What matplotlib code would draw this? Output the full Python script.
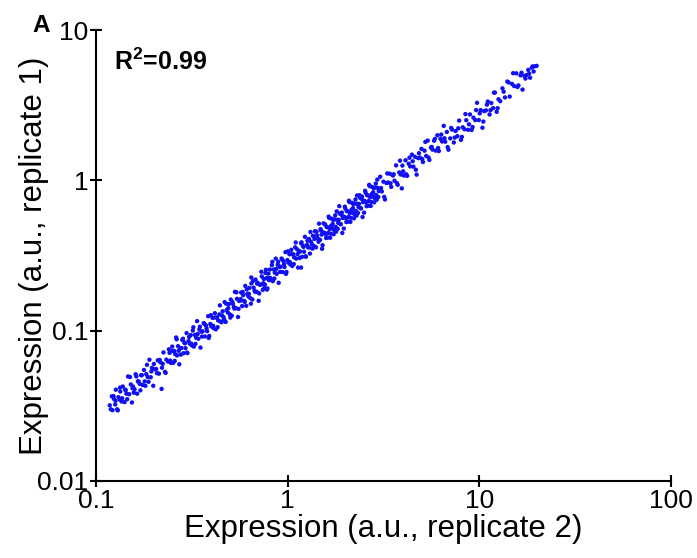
import matplotlib
matplotlib.use("Agg")
import matplotlib.pyplot as plt
from matplotlib.ticker import FixedLocator, FixedFormatter

plt.rcParams['font.family'] = ['Liberation Sans', 'DejaVu Sans']
plt.rcParams['mathtext.fontset'] = 'custom'
plt.rcParams['mathtext.rm'] = 'Liberation Sans'
plt.rcParams['mathtext.bf'] = 'Liberation Sans:bold'

# expression values (replicate 2 on x, replicate 1 on y)
rep2 = [
    0.118, 0.121, 0.122, 0.124, 0.126, 0.127, 0.129, 0.131, 0.133, 0.134, 0.136, 0.138, 0.141, 0.143, 0.144, 0.147,
    0.149, 0.152, 0.154, 0.156, 0.159, 0.161, 0.164, 0.167, 0.169, 0.172, 0.175, 0.178, 0.181, 0.183, 0.186, 0.190,
    0.193, 0.196, 0.199, 0.203, 0.206, 0.210, 0.213, 0.217, 0.221, 0.225, 0.229, 0.233, 0.238, 0.242, 0.246, 0.220,
    0.250, 0.253, 0.256, 0.259, 0.262, 0.265, 0.268, 0.272, 0.275, 0.279, 0.282, 0.286, 0.289, 0.293, 0.297, 0.300,
    0.304, 0.308, 0.312, 0.316, 0.320, 0.324, 0.328, 0.333, 0.337, 0.342, 0.346, 0.351, 0.355, 0.360, 0.365, 0.370,
    0.375, 0.380, 0.385, 0.390, 0.395, 0.400, 0.406, 0.411, 0.417, 0.422, 0.428, 0.434, 0.440, 0.446,
    0.452, 0.458, 0.463, 0.469, 0.475, 0.481, 0.487, 0.493, 0.499, 0.505, 0.511, 0.518, 0.524, 0.531, 0.537, 0.544,
    0.551, 0.558, 0.565, 0.572, 0.579, 0.586, 0.593, 0.601, 0.608, 0.616, 0.624, 0.631, 0.639, 0.647, 0.655, 0.664,
    0.672, 0.680, 0.689, 0.697, 0.706, 0.715, 0.724, 0.733, 0.742, 0.751, 0.761, 0.770, 0.780, 0.789, 0.799,
    0.808, 0.818, 0.827, 0.837, 0.847, 0.857, 0.867, 0.877, 0.887, 0.898, 0.908, 0.919, 0.930, 0.941, 0.952, 0.963,
    0.974, 0.986, 0.997, 1.009, 1.021, 1.033, 1.045, 1.057, 1.070, 1.082, 1.095, 1.108, 1.121, 1.134, 1.148, 1.161,
    1.175, 1.189, 1.203, 1.217, 1.231, 1.246, 1.261, 1.276, 1.291,
    1.307, 1.323, 1.339, 1.355, 1.372, 1.389, 1.406, 1.423, 1.440, 1.458, 1.476, 1.494, 1.512, 1.531, 1.549, 1.568,
    1.587, 1.607, 1.626, 1.646, 1.666, 1.687, 1.707, 1.728, 1.749, 1.771, 1.792, 1.814, 1.836, 1.859, 1.882, 1.905,
    1.928, 1.952, 1.975, 2.000, 2.024, 2.049, 2.074, 2.099, 2.125, 2.151, 2.178, 2.204, 2.231, 2.259, 2.286, 2.314,
    2.343, 2.371, 2.400, 2.430, 2.459, 2.490, 2.520, 2.551, 2.582, 2.614, 2.646, 2.678, 2.711, 2.744, 2.778, 2.812,
    2.847, 2.882, 2.917, 2.953, 2.989,
    3.04, 3.10, 3.16, 3.22, 3.28, 3.34, 3.41, 3.47, 3.54, 3.61, 3.68, 3.75, 3.82, 3.89, 3.97, 4.04,
    4.12, 4.20, 4.28, 4.36, 4.45, 4.53, 4.62, 4.71, 4.80, 4.89, 4.99, 5.08, 5.18, 5.28, 5.38, 5.49,
    5.59, 5.70, 5.81, 5.92, 6.04, 6.15, 6.27, 6.39, 6.52, 6.64, 6.77, 6.90,
    7.05, 7.20, 7.36, 7.52, 7.68, 7.85, 8.02, 8.19, 8.37, 8.55, 8.74, 8.93, 9.12, 9.32, 9.52, 9.73,
    9.94, 10.16, 10.38, 10.60, 10.83, 11.07, 11.31, 11.55, 11.80, 12.06, 12.32, 12.59, 12.86,
    13.2, 13.6, 14.0, 14.4, 14.8, 15.2, 15.6, 16.0, 16.4, 16.8, 17.2, 17.6, 18.0, 18.4, 18.8, 19.2, 19.6, 19.9,
    # second pass, between the first points
    0.1195, 0.1235, 0.1265, 0.130, 0.1335, 0.137, 0.142, 0.1455, 0.1505, 0.155, 0.1575, 0.1625, 0.1655, 0.1705,
    0.1735, 0.1795, 0.1845, 0.188, 0.1945, 0.2005, 0.208, 0.215, 0.223, 0.231, 0.240, 0.244,
    0.2515, 0.2575, 0.2635, 0.270, 0.277, 0.2845, 0.291, 0.2985, 0.306, 0.314, 0.322, 0.3305, 0.3395, 0.3485,
    0.3575, 0.3675, 0.3775, 0.3875, 0.3975, 0.4085, 0.4195, 0.431, 0.443,
    0.455, 0.466, 0.478, 0.490, 0.502, 0.5145, 0.5275, 0.5405, 0.5545, 0.5685, 0.5825, 0.597, 0.612, 0.6275,
    0.643, 0.6595, 0.676, 0.693, 0.7105, 0.7285, 0.7465, 0.756, 0.7655, 0.775, 0.7845, 0.794,
    0.813, 0.832, 0.852, 0.872, 0.8925, 0.9135, 0.935, 0.9575, 0.980, 1.003, 1.027, 1.051, 1.076, 1.1015,
    1.1275, 1.1545, 1.182, 1.210, 1.238, 1.2685, 1.2985,
    1.315, 1.347, 1.3805, 1.4145, 1.449, 1.485, 1.503, 1.5215, 1.540, 1.5775, 1.5965, 1.616, 1.636, 1.656,
    1.6765, 1.697, 1.7175, 1.7385, 1.760, 1.7815, 1.803, 1.825, 1.8475, 1.8705, 1.8935, 1.9165, 1.940, 1.9635,
    1.9875, 2.012, 2.0365, 2.0615, 2.0865, 2.112, 2.138, 2.1645, 2.191, 2.2175, 2.245, 2.2725, 2.300, 2.3285,
    2.357, 2.3855, 2.415, 2.4445, 2.4745, 2.505, 2.5355, 2.5665, 2.598, 2.630, 2.662, 2.6945, 2.7275, 2.761,
    2.795, 2.8295, 2.8645, 2.8995, 2.935, 2.971,
    3.07, 3.19, 3.31, 3.44, 3.575, 3.715, 3.855, 4.005, 4.16, 4.32, 4.49, 4.665, 4.845, 5.035, 5.23, 5.435,
    5.645, 5.865, 6.095, 6.33, 6.58, 6.835,
    7.13, 7.44, 7.765, 8.105, 8.46, 8.835, 9.22, 9.625, 10.05, 10.49, 10.95, 11.43, 11.93, 12.45,
    13.4, 14.2, 15.0, 15.8, 16.6, 17.4, 18.2, 19.0,
    # stray points off the band
    3.94, 1.175, 0.646,
]
rep1 = [
    0.0319, 0.0366, 0.0296, 0.0352, 0.0323, 0.0405, 0.0300, 0.0361, 0.0348, 0.0394, 0.0338, 0.0425, 0.0335, 0.0402, 0.0381, 0.0496,
    0.0378, 0.0439, 0.0333, 0.0425, 0.0408, 0.0513, 0.0381, 0.0460, 0.0443, 0.0506, 0.0435, 0.0548, 0.0430, 0.0514, 0.0492, 0.0641,
    0.0490, 0.0566, 0.0430, 0.0554, 0.0556, 0.0635, 0.0518, 0.0615, 0.0567, 0.0717, 0.0532, 0.0642, 0.0623, 0.0712, 0.0611, 0.041,
    0.0784, 0.0612, 0.0732, 0.0698, 0.0901, 0.0685, 0.0789, 0.0598, 0.0764, 0.0767, 0.0869, 0.0708, 0.0835, 0.0765, 0.0964, 0.0710,
    0.0853, 0.0822, 0.0935, 0.0799, 0.1003, 0.0784, 0.0938, 0.0897, 0.1158, 0.0884, 0.1018, 0.0772, 0.0986, 0.0990, 0.1124, 0.0916,
    0.1083, 0.0993, 0.1249, 0.0922, 0.1108, 0.1067, 0.1217, 0.1040, 0.1307, 0.1021, 0.1224, 0.1170, 0.1283, 0.1153,
    0.1139, 0.1346, 0.1231, 0.1550, 0.1144, 0.1374, 0.1323, 0.1504, 0.1285, 0.1612, 0.1259, 0.1508, 0.1438, 0.1814, 0.1413, 0.1630,
    0.1234, 0.1578, 0.1582, 0.1794, 0.1459, 0.1723, 0.1577, 0.1986, 0.1464, 0.1759, 0.1695, 0.1926, 0.1646, 0.2065, 0.1614, 0.1934,
    0.1844, 0.2190, 0.1813, 0.2088, 0.1581, 0.2022, 0.2027, 0.2299, 0.1870, 0.2208, 0.2024, 0.2544, 0.1878, 0.2253, 0.2170,
    0.2554, 0.2182, 0.2734, 0.2136, 0.2554, 0.2435, 0.3017, 0.2391, 0.2752, 0.2083, 0.2659, 0.2665, 0.3021, 0.2456, 0.2899, 0.2653,
    0.3333, 0.2459, 0.2949, 0.2838, 0.3227, 0.2756, 0.3455, 0.2697, 0.3227, 0.3075, 0.3589, 0.3020, 0.3479, 0.2631, 0.3362, 0.3367,
    0.3817, 0.3103, 0.3663, 0.3353, 0.4213, 0.3107, 0.3730, 0.3589, 0.4081,
    0.3260, 0.3914, 0.3767, 0.4283, 0.3660, 0.4592, 0.3588, 0.4292, 0.4092, 0.5159, 0.4024, 0.4636, 0.3508, 0.4484, 0.4492, 0.5093,
    0.4142, 0.4893, 0.4480, 0.5633, 0.4155, 0.4990, 0.4802, 0.5462, 0.4666, 0.5855, 0.4573, 0.5471, 0.5218, 0.6739, 0.5131, 0.5911,
    0.4473, 0.5718, 0.5728, 0.6496, 0.5283, 0.6239, 0.5714, 0.7183, 0.5300, 0.6363, 0.6127, 0.6967, 0.5952, 0.7468, 0.5834, 0.6979,
    0.6659, 0.7976, 0.6542, 0.7540, 0.5705, 0.7293, 0.7308, 0.8286, 0.6739, 0.7960, 0.7290, 0.9164, 0.6761, 0.8117, 0.7814, 0.8889,
    0.7596, 0.9528, 0.7444, 0.8907, 0.8495,
    1.058, 0.845, 0.981, 0.747, 0.961, 0.969, 1.108, 0.906, 1.078, 0.995, 1.259, 0.935, 1.130, 1.094, 1.255, 1.078,
    1.362, 1.072, 1.291, 1.239, 1.484, 1.235, 1.434, 1.093, 1.406, 1.418, 1.621, 1.326, 1.577, 1.455, 1.841, 1.369,
    1.654, 1.603, 1.837, 1.579, 1.997, 1.569, 1.891, 1.816, 2.307, 1.810, 2.101, 1.601,
    1.904, 2.177, 1.788, 2.132, 1.970, 2.501, 1.862, 2.256, 2.192, 2.516, 2.171, 2.749, 2.167, 2.617, 2.519, 3.284,
    2.523, 2.935, 2.242, 2.891, 2.924, 3.348, 2.748, 3.274, 3.027, 3.842, 2.861, 3.467, 3.368,
    4.101, 3.566, 4.549, 3.612, 4.387, 4.245, 5.157, 4.286, 5.001, 4.022, 4.951, 5.016, 5.438, 4.824, 5.626, 5.308, 5.754, 5.785,
    # second pass
    0.0300, 0.0367, 0.0342, 0.0295, 0.0418, 0.0355, 0.0406, 0.0350, 0.0492, 0.0414, 0.0387, 0.0496, 0.0460, 0.0401,
    0.0506, 0.0460, 0.0593, 0.0457, 0.0536, 0.0601, 0.0522, 0.0639, 0.0602, 0.0524, 0.0752, 0.0632,
    0.0733, 0.0630, 0.0877, 0.0735, 0.0693, 0.0884, 0.0824, 0.0714, 0.0909, 0.0820, 0.1054, 0.0818, 0.0952, 0.1064,
    0.0914, 0.1112, 0.1038, 0.0895, 0.1268, 0.1078, 0.1223, 0.1055, 0.1474,
    0.1261, 0.1188, 0.1512, 0.1413, 0.1223, 0.1556, 0.1403, 0.1801, 0.1397, 0.1624, 0.1810, 0.1555, 0.1885, 0.1757,
    0.1512, 0.2142, 0.1817, 0.2057, 0.1771, 0.2468, 0.2069, 0.1926, 0.2422, 0.2235, 0.1911, 0.2401,
    0.2240, 0.2871, 0.2224, 0.2580, 0.2873, 0.2464, 0.2983, 0.2777, 0.2387, 0.3374, 0.2859, 0.3231, 0.2777, 0.3865,
    0.3237, 0.3047, 0.3874, 0.3614, 0.3123, 0.3973, 0.3578,
    0.4538, 0.3516, 0.4083, 0.4553, 0.3908, 0.4737, 0.4359, 0.3706, 0.5181, 0.4392, 0.4908, 0.4171, 0.5741, 0.4754,
    0.4424, 0.5561, 0.5130, 0.4386, 0.5512, 0.4908, 0.6222, 0.4763, 0.5465, 0.6021, 0.5107, 0.6113, 0.5626, 0.4783,
    0.6686, 0.5601, 0.6260, 0.5321, 0.7321, 0.6064, 0.5642, 0.7093, 0.6545, 0.5595, 0.7031, 0.6261, 0.7937, 0.6077,
    0.6972, 0.7679, 0.6513, 0.7798, 0.7176, 0.6102, 0.8529, 0.7145, 0.7986, 0.6788, 0.9341, 0.7736, 0.7198, 0.9048,
    0.8349, 0.7139, 0.8972, 0.7988, 1.0129, 0.7754,
    0.890, 0.777, 1.113, 0.958, 1.099, 0.959, 1.353, 1.150, 1.098, 1.416, 1.341, 1.177, 1.517, 1.387, 1.805, 1.419,
    1.670, 1.888, 1.644, 2.019, 1.908, 1.665,
    2.233, 1.928, 2.222, 1.948, 2.764, 2.362, 2.265, 2.937, 2.795, 2.464, 3.193, 2.932, 3.833, 3.025,
    3.895, 4.492, 5.173, 4.188, 5.204, 4.761, 5.135, 5.740,
    # stray points
    0.885, 0.263, 0.226,
]

x_ticks = [0.1, 1, 10, 100]
x_labels = ['0.1', '1', '10', '100']
y_ticks = [0.01, 0.1, 1, 10]
y_labels = ['0.01', '0.1', '1', '10']

fig = plt.figure(figsize=(6.97, 5.58), dpi=100)
ax = fig.add_axes([0.1377, 0.138, 0.825, 0.808])

ax.scatter(rep2, rep1, s=10, color='#1010f0', edgecolors='none')

ax.set_xscale('log')
ax.set_yscale('log')
ax.set_xlim(0.1, 100)
ax.set_ylim(0.01, 10)
ax.xaxis.set_major_locator(FixedLocator(x_ticks))
ax.xaxis.set_major_formatter(FixedFormatter(x_labels))
ax.yaxis.set_major_locator(FixedLocator(y_ticks))
ax.yaxis.set_major_formatter(FixedFormatter(y_labels))
ax.minorticks_off()

for side in ['top', 'right']:
    ax.spines[side].set_visible(False)
for side in ['left', 'bottom']:
    ax.spines[side].set_linewidth(1.5)
ax.tick_params(direction='inout', length=9, width=1.5, labelsize=19, pad=1)

ax.set_xlabel('Expression (a.u., replicate 2)', fontsize=22.5, labelpad=1)
ax.set_ylabel('Expression (a.u., replicate 1)', fontsize=22.5)
ax.yaxis.set_label_coords(-0.081, 0.5)

ax.text(0.032, 0.912, r'R$^{\mathbf{2}}$=0.99', transform=ax.transAxes, fontsize=18, fontweight='bold')
fig.text(0.047, 0.943, 'A', fontsize=17.5, fontweight='bold')

fig.savefig('out.png', dpi=100)
